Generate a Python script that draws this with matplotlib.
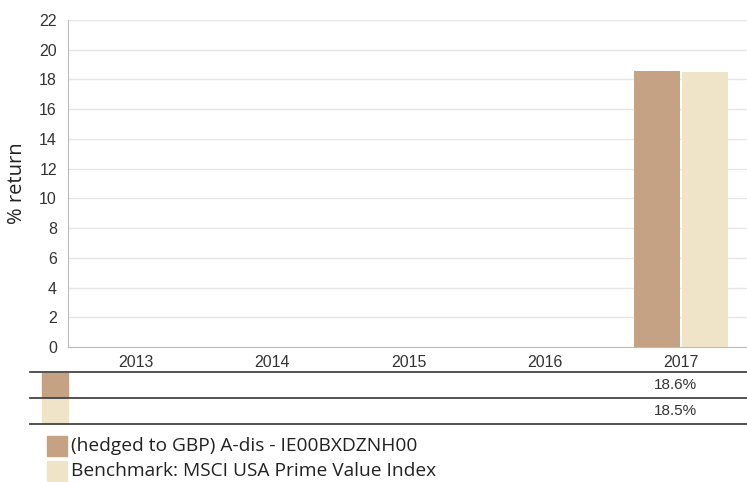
import matplotlib.pyplot as plt
import matplotlib.patches as mpatches
from matplotlib.transforms import blended_transform_factory
import numpy as np

# Chart data
years = ["2013", "2014", "2015", "2016", "2017"]
fund_returns = [None, None, None, None, 18.6]
bench_returns = [None, None, None, None, 18.5]
series_names = ["(hedged to GBP) A-dis - IE00BXDZNH00",
                "Benchmark: MSCI USA Prime Value Index"]
colors = ["#C4A283", "#EFE3C8"]

W, H = 747, 482
fig = plt.figure(figsize=(W / 100, H / 100), dpi=100)

def px(x, y):
    return x / W, 1 - y / H

left, top = px(68, 20)
right, bottom = px(749, 347)
ax = fig.add_axes([left, bottom, right - left, top - bottom])

x = np.arange(len(years))
bw = 0.35
for vals, off, c in [(fund_returns, -bw / 2, colors[0]), (bench_returns, bw / 2, colors[1])]:
    xs = [xi + off for xi, v in zip(x, vals) if v is not None]
    hs = [v for v in vals if v is not None]
    ax.bar(xs, hs, width=bw - 0.01, color=c, zorder=3)

ax.set_xlim(-0.5, len(years) - 0.5)
ax.set_ylim(0, 22)
ax.set_yticks(range(0, 23, 2))
ax.set_xticks(x)
ax.set_xticklabels(years)
ax.tick_params(axis="both", length=0, labelsize=11.5, labelcolor="#333333",
               labelfontfamily="Liberation Sans")
ax.tick_params(axis="x", pad=6)
ax.tick_params(axis="y", pad=8)
ax.yaxis.grid(True, color="#E6E6E6", linewidth=1, zorder=0)
for s in ["top", "right"]:
    ax.spines[s].set_visible(False)
for s in ["left", "bottom"]:
    ax.spines[s].set_color("#BBBBBB")
ax.set_ylabel("% return", fontsize=14.5, family="Open Sans", color="#222222", labelpad=9)

# Table below the chart
tr = blended_transform_factory(ax.transData, fig.transFigure)
line_x0, _ = px(30, 0)
for yy in [372, 398, 424]:
    _, fy = px(0, yy)
    fig.add_artist(plt.Line2D([line_x0, 1], [fy, fy], color="#444444", linewidth=1.3))
for i, (vals, c) in enumerate([(fund_returns, colors[0]), (bench_returns, colors[1])]):
    y0 = 373 + i * 26
    x0, fy_top = px(42, y0)
    x1, fy_bot = px(68, y0 + 24)
    fig.add_artist(mpatches.Rectangle((x0, fy_bot), x1 - x0, fy_top - fy_bot,
                                      color=c, transform=fig.transFigure))
    _, fy_mid = px(0, y0 + 12)
    for xi, v in zip(x, vals):
        if v is not None:
            fig.text(xi - 0.04, fy_mid, f"{v}%", transform=tr, ha="center", va="center",
                     fontsize=11, family="Liberation Sans", color="#333333")

# Legend
for i, (name, c) in enumerate(zip(series_names, colors)):
    y0 = 436 + i * 25
    x0, fy_top = px(47, y0)
    x1, fy_bot = px(67, y0 + 20)
    fig.add_artist(mpatches.Rectangle((x0, fy_bot), x1 - x0, fy_top - fy_bot,
                                      color=c, transform=fig.transFigure))
    tx, ty = px(71, y0 + 10)
    fig.text(tx, ty, name, ha="left", va="center", fontsize=13.8,
             family="Open Sans", color="#222222")

plt.savefig("out.png", dpi=100)
